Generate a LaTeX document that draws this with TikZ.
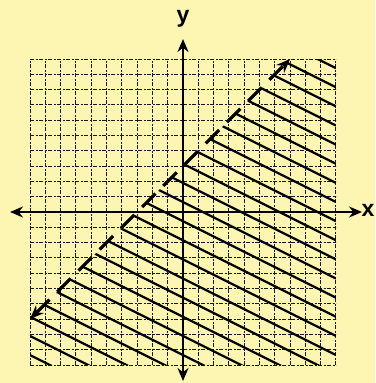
\documentclass[tikz,border=0pt]{standalone}
\usepackage{fontspec}
\setmainfont{Liberation Sans}
\usetikzlibrary{arrows.meta}
\definecolor{paper}{RGB}{253,245,178}
\tikzset{
  gridline/.style={line width=1pt, black!90, dash pattern=on 4pt off 1.5pt on 2pt off 1.5pt},
  axisline/.style={line width=2.8pt, black, {Stealth[length=13pt,width=11pt]}-{Stealth[length=13pt,width=11pt]}},
  boundary/.style={line width=3.2pt, black, dash pattern=on 19pt off 11pt, {Stealth[length=14pt,width=11pt]}-{Stealth[length=14pt,width=11pt]}},
  hatchline/.style={line width=2.2pt, black},
  axislabel/.style={font=\bfseries\fontsize{23}{23}\selectfont, inner sep=0pt}
}
\begin{document}
\begin{tikzpicture}[x=1pt,y=-1pt]
\fill[paper] (0,0) rectangle (375,383);
\useasboundingbox (0,0) rectangle (375,383);
\begin{scope}[shift={(183,212)}, x=15.3pt, y=15.3pt]
  \draw[gridline, step=1] (-10,-10) grid (10,10);
  \begin{scope}
    \clip (-10,-7) -- (7,10) -- (10,10) -- (10,-10) -- (-10,-10) -- cycle;
    \foreach \k in {-13,...,12} {
      \draw[hatchline] (-10,{5+0.65+\k*1.25}) -- (10,{-5+0.65+\k*1.25});
    }
  \end{scope}
  \coordinate (bl) at (-10,-7);
  \coordinate (tr) at (7,10);
  \draw[boundary] (bl) -- (tr);
\end{scope}
\coordinate (xl) at (10,212);
\coordinate (xr) at (362,212);
\coordinate (yt) at (183,39);
\coordinate (yb) at (183,381);
\draw[axisline] (xl) -- (xr);
\draw[axisline] (yb) -- (yt);
\node[axislabel] (xlab) at (368,210) {x};
\node[axislabel] (ylab) at (183,19) {y};
\end{tikzpicture}
\end{document}
